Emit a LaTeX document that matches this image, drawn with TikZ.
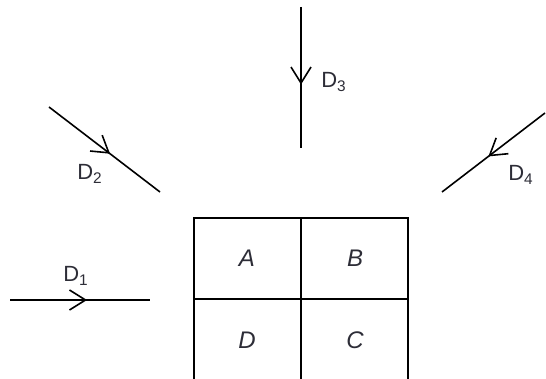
\documentclass[tikz,border=0pt]{standalone}
\usepackage{fontspec}
\setmainfont{Liberation Sans}
\usetikzlibrary{arrows.meta, decorations.markings, positioning}
\definecolor{LabelGray}{RGB}{45, 45, 55}

\tikzset{
  flowline/.style={line width=0.8pt, postaction={decorate},
    decoration={markings, mark=at position 0.55 with {\arrow{Straight Barb[length=8pt, width=10pt, line width=0.8pt]}}}},
  gridline/.style={line width=0.9pt},
  dirlabel/.style={text=LabelGray, font=\fontsize{11}{13}\selectfont, inner sep=0pt},
  celllabel/.style={text=LabelGray, font=\fontsize{12}{14}\selectfont\itshape, inner sep=0pt}
}

\begin{document}
\begin{tikzpicture}[x=0.5pt, y=-0.5pt]
    \useasboundingbox (0,0) rectangle (546,379);

    % the four cells
    \coordinate (gridNW) at (194,218);
    \coordinate (gridNE) at (408,218);
    \coordinate (gridSW) at (194,379);
    \coordinate (gridSE) at (408,379);
    \coordinate (gridN) at (301,218);
    \coordinate (gridS) at (301,379);
    \coordinate (gridW) at (194,299);
    \coordinate (gridE) at (408,299);
    \draw[gridline] (gridSW) -- (gridNW) -- (gridNE) -- (gridSE);
    \draw[gridline] (gridN) -- (gridS);
    \draw[gridline] (gridW) -- (gridE);

    \node[celllabel] (cellA) at (247,258) {A};
    \node[celllabel] (cellB) at (355,258) {B};
    \node[celllabel] (cellD) at (247,340) {D};
    \node[celllabel] (cellC) at (355,340) {C};

    % incoming directions
    \coordinate (d1start) at (10,300);
    \coordinate (d1end) at (150,300);
    \coordinate (d2start) at (49,107);
    \coordinate (d2end) at (160,192);
    \coordinate (d3start) at (301,7);
    \coordinate (d3end) at (301,148);
    \coordinate (d4start) at (545,113);
    \coordinate (d4end) at (442,192);
    \draw[flowline] (d1start) -- (d1end);
    \draw[flowline] (d2start) -- (d2end);
    \draw[flowline] (d3start) -- (d3end);
    \draw[flowline] (d4start) -- (d4end);

    \node[dirlabel] (labD1) at (76,276) {D\textsubscript{1}};
    \node[dirlabel] (labD2) at (90,174) {D\textsubscript{2}};
    \node[dirlabel] (labD3) at (334,82) {D\textsubscript{3}};
    \node[dirlabel] (labD4) at (521,175) {D\textsubscript{4}};
  \end{tikzpicture}
\end{document}
